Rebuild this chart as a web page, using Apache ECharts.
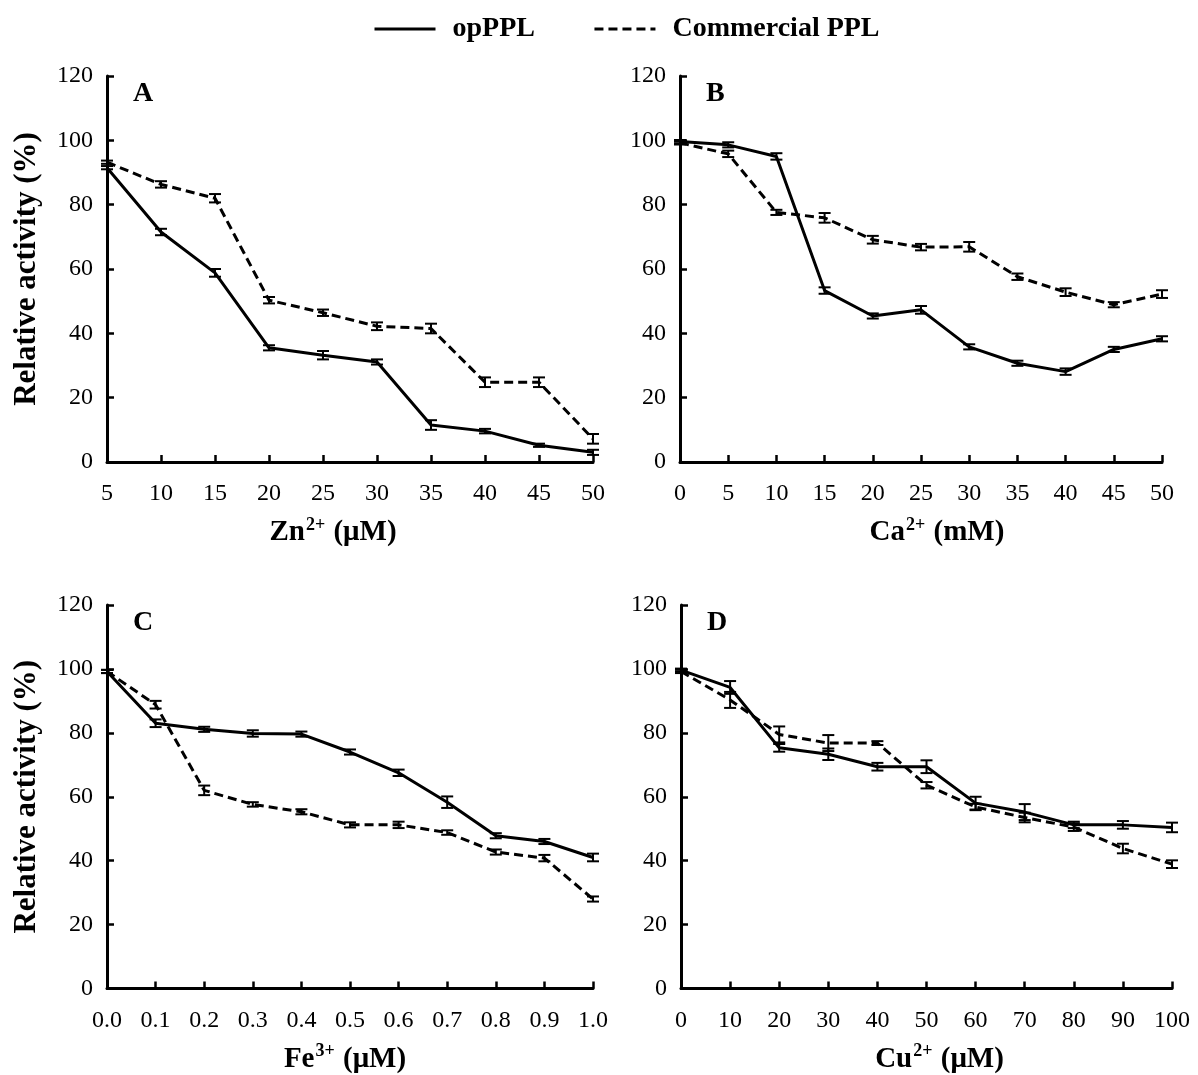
<!DOCTYPE html>
<html>
<head>
<meta charset="utf-8">
<script src="https://cdn.jsdelivr.net/npm/echarts@6/dist/echarts.min.js"></script>
<style>html,body{margin:0;padding:0;background:#fff}#c{width:1198px;height:1075px}</style>
</head>
<body>
<div id="c"></div>
<script>
// ---- data ----
const znX = [5, 10, 15, 20, 25, 30, 35, 40, 45, 50];
const znOp = [91.5, 71.5, 58.8, 35.5, 33.2, 31.1, 11.5, 9.6, 5.2, 3.0];
const znOpErr = [0.5, 1.0, 1.2, 0.8, 1.3, 0.8, 1.5, 0.7, 0.5, 0.8];
const znCom = [93.2, 86.3, 82.0, 50.3, 46.4, 42.2, 41.5, 24.8, 24.8, 7.2];
const znComErr = [0.5, 1.0, 1.3, 1.0, 1.0, 1.2, 1.5, 1.5, 1.5, 1.5];

const caX = [0, 5, 10, 15, 20, 25, 30, 35, 40, 45, 50];
const caOp = [99.6, 98.6, 95.0, 53.3, 45.4, 47.3, 35.8, 30.7, 28.1, 35.0, 38.3];
const caOpErr = [0.5, 0.8, 1.0, 1.0, 0.8, 1.2, 0.8, 0.8, 1.0, 0.8, 0.8];
const caCom = [99.2, 95.8, 77.6, 75.9, 69.1, 66.8, 66.9, 57.6, 52.8, 48.9, 52.2];
const caComErr = [0.5, 1.0, 0.8, 1.5, 1.2, 1.0, 1.5, 1.0, 1.2, 0.8, 1.2];

const feX = [0, 0.1, 0.2, 0.3, 0.4, 0.5, 0.6, 0.7, 0.8, 0.9, 1.0];
const feOp = [99.2, 83.0, 81.1, 79.8, 79.6, 74.0, 67.5, 58.3, 47.8, 46.0, 41.0];
const feOpErr = [0.5, 1.2, 0.8, 1.0, 0.8, 0.8, 1.0, 1.8, 0.8, 0.8, 1.2];
const feCom = [99.2, 88.8, 62.0, 57.6, 55.3, 51.2, 51.2, 48.8, 42.7, 40.8, 28.0];
const feComErr = [0.5, 1.2, 1.5, 0.7, 0.8, 0.8, 1.0, 0.7, 0.8, 1.0, 0.8];

const cuX = [0, 10, 20, 30, 40, 50, 60, 70, 80, 90, 100];
const cuOp = [99.6, 94.2, 75.3, 73.3, 69.4, 69.4, 58.0, 55.2, 51.2, 51.2, 50.4];
const cuOpErr = [0.5, 2.0, 1.2, 1.8, 1.2, 2.0, 2.0, 2.5, 1.0, 1.2, 1.5];
const cuCom = [99.2, 90.3, 79.5, 76.8, 76.8, 63.6, 56.8, 53.5, 50.5, 43.8, 38.9];
const cuComErr = [0.5, 2.5, 2.5, 2.5, 0.6, 1.0, 1.0, 1.5, 1.2, 1.5, 1.2];

const seriesNames = ['opPPL', 'Commercial PPL'];
const panelLetters = ['A', 'B', 'C', 'D'];
const yTitle = 'Relative activity (%)';

// ---- build ----
const FONT = 'Liberation Serif';
const panels = [
  {x: znX, op: znOp, opE: znOpErr, com: znCom, comE: znComErr, min: 5, max: 50, interval: 5, ion: 'Zn', ch: '2+', unit: ' (μM)', dec: 0, grid: {left: 107, top: 76, width: 486, height: 386}, yName: true, shift: -17},
  {x: caX, op: caOp, opE: caOpErr, com: caCom, comE: caComErr, min: 0, max: 50, interval: 5, ion: 'Ca', ch: '2+', unit: ' (mM)', dec: 0, grid: {left: 680, top: 76, width: 482, height: 386}, yName: false, shift: 16},
  {x: feX, op: feOp, opE: feOpErr, com: feCom, comE: feComErr, min: 0, max: 1, interval: 0.1, ion: 'Fe', ch: '3+', unit: ' (μM)', dec: 1, grid: {left: 107, top: 605, width: 486, height: 388}, yName: true, shift: -5},
  {x: cuX, op: cuOp, opE: cuOpErr, com: cuCom, comE: cuComErr, min: 0, max: 100, interval: 10, ion: 'Cu', ch: '2+', unit: ' (μM)', dec: 0, grid: {left: 681, top: 605, width: 491, height: 388}, yName: false, shift: 13}
];

const grids = [], xAxes = [], yAxes = [], series = [], graphics = [];
const axisLine = {lineStyle: {color: '#000', width: 3}};
const axisTick = {inside: true, length: 7, lineStyle: {color: '#000', width: 2.5}};

function errRender(params, api) {
  const x = api.value(0), y = api.value(1), e = api.value(2);
  const top = api.coord([x, y + e]);
  const bot = api.coord([x, y - e]);
  const hw = 6;
  const st = {stroke: '#000', lineWidth: 2};
  return {type: 'group', children: [
    {type: 'line', shape: {x1: top[0], y1: top[1], x2: bot[0], y2: bot[1]}, style: st},
    {type: 'line', shape: {x1: top[0] - hw, y1: top[1], x2: top[0] + hw, y2: top[1]}, style: st},
    {type: 'line', shape: {x1: bot[0] - hw, y1: bot[1], x2: bot[0] + hw, y2: bot[1]}, style: st}
  ]};
}

panels.forEach((p, i) => {
  grids.push(p.grid);
  const sh = p.shift;
  xAxes.push({
    type: 'value', gridIndex: i, min: p.min, max: p.max, interval: p.interval,
    axisLine, axisTick, splitLine: {show: false},
    axisLabel: {color: '#000', fontFamily: FONT, fontSize: 24, margin: 20,
      formatter: v => p.dec ? v.toFixed(1) : String(Math.round(v))},
    name: '{t|' + p.ion + '}{s|' + p.ch + '}{t|' + p.unit + '}',
    nameLocation: 'middle', nameGap: 54,
    nameTextStyle: {
      padding: sh < 0 ? [0, -2 * sh, 0, 0] : [0, 0, 0, 2 * sh],
      rich: {
        t: {fontFamily: FONT, fontSize: 29, fontWeight: 'bold', color: '#000'},
        s: {fontFamily: FONT, fontSize: 18, fontWeight: 'bold', color: '#000', verticalAlign: 'top', padding: [0, 1, 16, 1]}
      }
    }
  });
  yAxes.push({
    type: 'value', gridIndex: i, min: 0, max: 120, interval: 20,
    axisLine: {show: true, lineStyle: {color: '#000', width: 3}}, axisTick, splitLine: {show: false},
    axisLabel: {color: '#000', fontFamily: FONT, fontSize: 24, margin: 14},
    name: p.yName ? yTitle : '', nameLocation: 'middle', nameGap: 65, nameRotate: 90,
    nameTextStyle: {fontFamily: FONT, fontSize: 31, fontWeight: 'bold', color: '#000'}
  });
  series.push({
    name: seriesNames[0], type: 'line', xAxisIndex: i, yAxisIndex: i, symbol: 'none',
    lineStyle: {color: '#000', width: 3, type: 'solid'}, itemStyle: {color: '#000'},
    data: p.x.map((x, k) => [x, p.op[k]]), z: 3
  });
  series.push({
    name: seriesNames[1], type: 'line', xAxisIndex: i, yAxisIndex: i, symbol: 'none',
    lineStyle: {color: '#000', width: 3, type: [9, 5]}, itemStyle: {color: '#000'},
    data: p.x.map((x, k) => [x, p.com[k]]), z: 3
  });
  series.push({
    type: 'custom', xAxisIndex: i, yAxisIndex: i, renderItem: errRender, silent: true,
    encode: {x: 0, y: 1}, data: p.x.map((x, k) => [x, p.op[k], p.opE[k]]), z: 4
  });
  series.push({
    type: 'custom', xAxisIndex: i, yAxisIndex: i, renderItem: errRender, silent: true,
    encode: {x: 0, y: 1}, data: p.x.map((x, k) => [x, p.com[k], p.comE[k]]), z: 4
  });
  graphics.push({
    type: 'text', left: p.grid.left + 26, top: p.grid.top + 4,
    style: {text: panelLetters[i], font: 'bold 28px "' + FONT + '"', fill: '#000'}
  });
});

const chart = echarts.init(document.getElementById('c'), null, {renderer: 'canvas'});
chart.setOption({
  backgroundColor: '#fff',
  animation: false,
  legend: {
    data: seriesNames, left: 368, top: 10, itemWidth: 61, itemHeight: 14, itemGap: 58,
    itemStyle: {opacity: 0},
    lineStyle: {width: 3, color: '#000'},
    textStyle: {fontFamily: FONT, fontSize: 28, fontWeight: 'bold', color: '#000', padding: [0, 0, 0, 12]}
  },
  grid: grids, xAxis: xAxes, yAxis: yAxes, series, graphic: graphics
});
</script>
</body>
</html>
